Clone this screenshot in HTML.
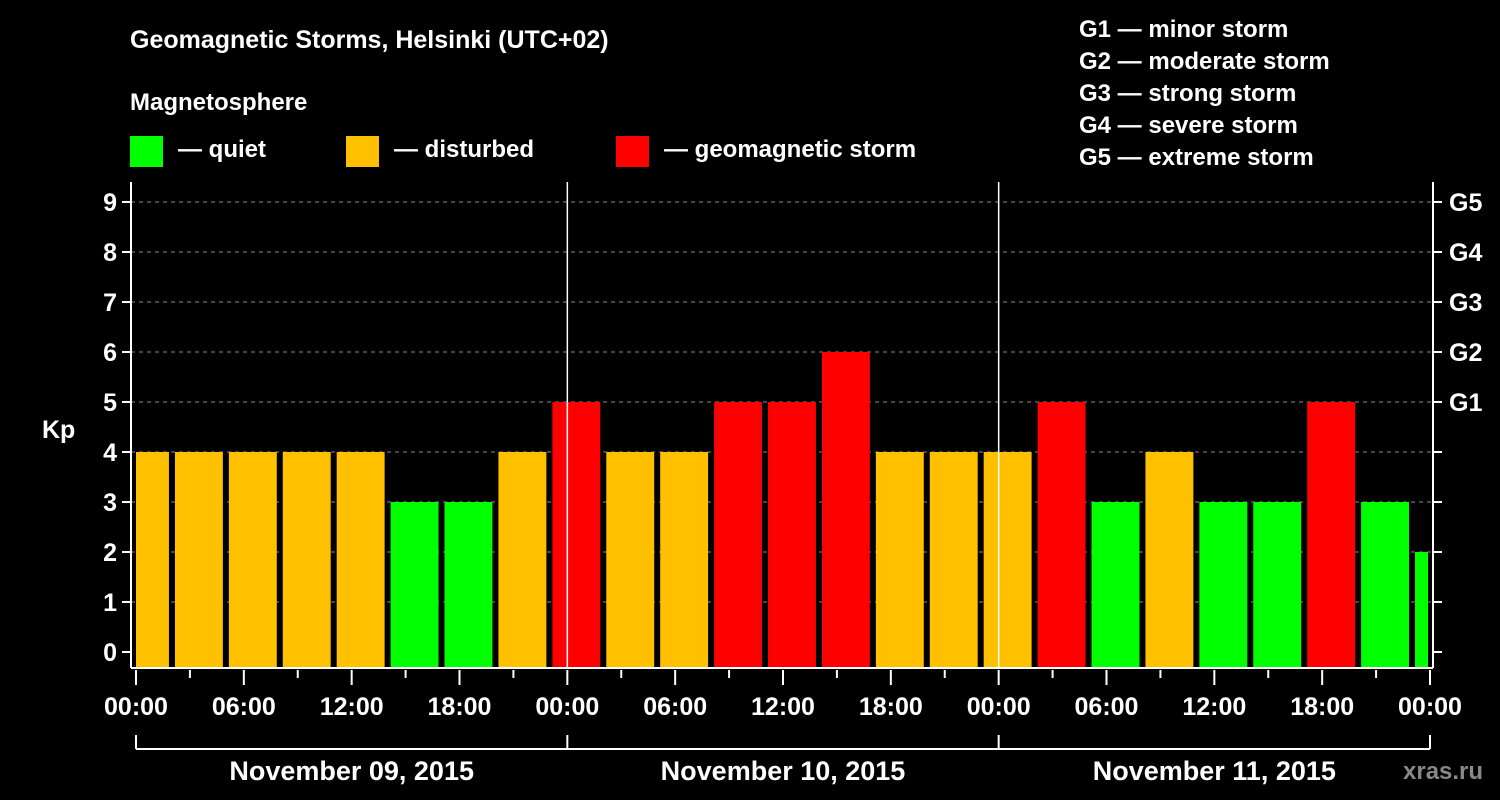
<!DOCTYPE html>
<html><head><meta charset="utf-8"><style>
body{margin:0;background:#000;}
svg{display:block;font-family:"Liberation Sans",Arial,sans-serif;font-weight:bold;}
</style></head><body>
<svg id="chart" width="1500" height="800" viewBox="0 0 1500 800">
<rect width="1500" height="800" fill="#000"/>
<text x="130" y="48" fill="#fff" font-size="25">Geomagnetic Storms, Helsinki (UTC+02)</text>
<text x="130" y="110" fill="#fff" font-size="24">Magnetosphere</text>
<g><rect x="130" y="136" width="33" height="31" fill="#00ff00"/><text x="178" y="157" fill="#fff" font-size="24">— quiet</text></g>
<g><rect x="346" y="136" width="33" height="31" fill="#ffc000"/><text x="394" y="157" fill="#fff" font-size="24">— disturbed</text></g>
<g><rect x="616" y="136" width="33" height="31" fill="#ff0000"/><text x="664" y="157" fill="#fff" font-size="24">— geomagnetic storm</text></g>
<g fill="#fff" font-size="24">
<text x="1079" y="37">G1 — minor storm</text>
<text x="1079" y="69">G2 — moderate storm</text>
<text x="1079" y="101">G3 — strong storm</text>
<text x="1079" y="133">G4 — severe storm</text>
<text x="1079" y="165">G5 — extreme storm</text>
</g>
<g id="grid"></g><g id="bars"></g><g id="axes"></g>
<text x="42" y="438" fill="#fff" font-size="25">Kp</text>
<text x="1403" y="779" fill="#888" font-size="24">xras.ru</text>
</svg>
<script>
const kpValues=[4,4,4,4,4,3,3,4,5,4,4,5,5,6,4,4,4,5,3,4,3,3,5,3,2];
const yTicks=[0,1,2,3,4,5,6,7,8,9];
const gLabels=["G1","G2","G3","G4","G5"];
const gLevels=[5,6,7,8,9];
const xTickLabels=["00:00","06:00","12:00","18:00","00:00","06:00","12:00","18:00","00:00","06:00","12:00","18:00","00:00"];
const dayLabels=["November 09, 2015","November 10, 2015","November 11, 2015"];
const NS="http://www.w3.org/2000/svg";
const X0=136,X1=1430,H=72,Y0=652,PY=50,L=131,R=1433,T=182,B=668;
const x=h=>X0+(X1-X0)*h/H;
const y=v=>Y0-v*PY;
function mk(p,tag,a){const e=document.createElementNS(NS,tag);for(const k in a)e.setAttribute(k,a[k]);p.appendChild(e);return e;}
const grid=document.getElementById('grid'),bars=document.getElementById('bars'),axes=document.getElementById('axes');
yTicks.forEach(v=>{if(v>=1){const g=mk(grid,'line',{x1:L,x2:R,y1:y(v),y2:y(v),stroke:'#888','stroke-dasharray':'4,4','stroke-width':1});

}});
kpValues.forEach((v,i)=>{
 const s=-1+3*i;let a=x(s)+3,b=x(s+3)-3;a=Math.max(a,X0);b=Math.min(b,X1-2);
 if(b<=a)return;
 const c=v>=5?'#ff0000':(v>=4?'#ffc000':'#00ff00');
 const r=mk(bars,'rect',{x:a,y:y(v),width:b-a,height:B-y(v),fill:c});
 
 
});
[[L,T,L,B],[R,T,R,B],[L,B,R,B]].forEach(p=>{mk(axes,'line',{x1:p[0],y1:p[1],x2:p[2],y2:p[3],stroke:'#fff','stroke-width':2});});
[0,1,2].forEach(d=>{if(d>0)mk(axes,'line',{x1:x(24*d),x2:x(24*d),y1:T,y2:B,stroke:'#fff','stroke-width':1.5});});
yTicks.forEach(v=>{
 mk(axes,'line',{x1:L-9,x2:L,y1:y(v),y2:y(v),stroke:'#fff','stroke-width':2});
 mk(axes,'line',{x1:R,x2:R+9,y1:y(v),y2:y(v),stroke:'#fff','stroke-width':2});
 const t=mk(axes,'text',{x:L-14,y:y(v)+9,fill:'#fff','font-size':25,'text-anchor':'end'});t.textContent=v;
 
 
});
gLabels.forEach((g,i)=>{const t=mk(axes,'text',{x:1449,y:y(gLevels[i])+9,fill:'#fff','font-size':25});t.textContent=g;
 
 });
for(let h=0;h<=H;h+=3){const maj=h%6===0;mk(axes,'line',{x1:x(h),x2:x(h),y1:B+2,y2:B+(maj?17:10),stroke:'#fff','stroke-width':2});}
xTickLabels.forEach((s,i)=>{const t=mk(axes,'text',{x:x(6*i),y:715,fill:'#fff','font-size':25,'text-anchor':'middle'});t.textContent=s;
 
 });
mk(axes,'line',{x1:x(0),x2:x(72),y1:749,y2:749,stroke:'#fff','stroke-width':2});
[0,24,48,72].forEach(h=>mk(axes,'line',{x1:x(h),x2:x(h),y1:735,y2:749,stroke:'#fff','stroke-width':2}));
dayLabels.forEach((s,i)=>{const t=mk(axes,'text',{x:x(24*i+12),y:780,fill:'#fff','font-size':27,'text-anchor':'middle'});t.textContent=s;
 
 });
</script>
</body></html>
